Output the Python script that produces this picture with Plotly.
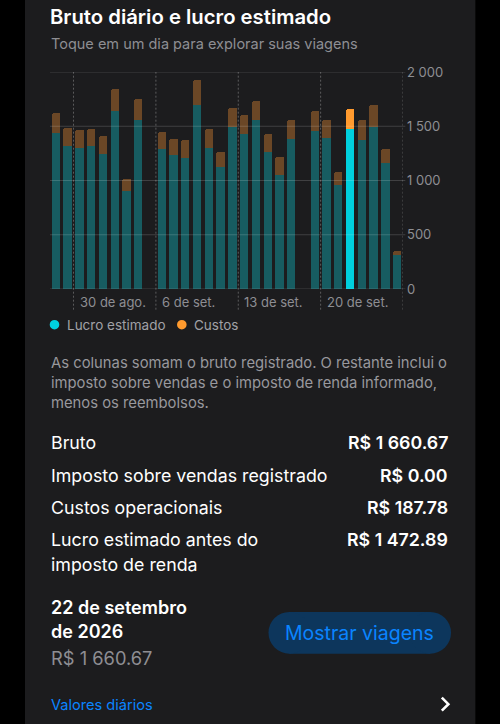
import pandas as pd
import plotly.graph_objects as go

# ---------------- data ----------------
days = [d.strftime("%Y-%m-%d") for d in pd.date_range("2026-08-28", "2026-09-26", freq="D")]
lucro = [1438, 1321, 1299, 1321, 1244, 1640, 900, 1554, None, 1290,
         1235, 1204, 1693, 1303, 1121, 1490, 1432, 1561, 1260, 1051,
         1382, None, 1459, 1392, 962, 1472.89, 1370, 1493, 1158, 316]
custos = [184, 160, 166, 157, 169, 206, 117, 197, None, 154,
          144, 166, 230, 168, 142, 178, 168, 172, 165, 166,
          176, None, 185, 169, 113, 187.78, 188, 203, 132, 34]
selected_day = "2026-09-22"
week_ticks = ["2026-08-30", "2026-09-06", "2026-09-13", "2026-09-20", "2026-09-27"]
week_labels = ["30 de ago.", "6 de set.", "13 de set.", "20 de set.", ""]
y_ticks = [0, 500, 1000, 1500, 2000]
y_labels = ["0", "500", "1 000", "1 500", "2 000"]

summary_labels = ["Bruto", "Imposto sobre vendas registrado", "Custos operacionais",
                  "Lucro estimado antes do<br>imposto de renda"]
summary_values = ["R$ 1 660.67", "R$ 0.00", "R$ 187.78", "R$ 1 472.89"]

# ---------------- style ----------------
FONT = "Inter"
CARD = "#1c1c1e"
GRAY = "#8e8e93"
CYAN = "#00d0de"
ORANGE = "#ff9a2e"
TEAL_DIM = "#175c61"
BROWN_DIM = "#6b4726"
BLUE = "#0a84ff"

W, H = 500, 724
PL, PR, PT, PB = 50, 402.7, 72.3, 289.3


def px(x):
    return (x - PL) / (PR - PL)


def py(y):
    return (PB - y) / (PB - PT)


x_mid = [d + " 12:00" for d in days]
lucro_colors = [CYAN if d == selected_day else TEAL_DIM for d in days]
custo_colors = [ORANGE if d == selected_day else BROWN_DIM for d in days]
bar_w = 0.71 * 86400000

fig = go.Figure()
fig.add_trace(go.Bar(x=x_mid, y=lucro, name="Lucro estimado", width=bar_w,
                     marker=dict(color=lucro_colors, line_width=0)))
fig.add_trace(go.Bar(x=x_mid, y=custos, name="Custos", width=bar_w,
                     marker=dict(color=custo_colors, line_width=0)))

shapes = []
# card background
shapes.append(dict(type="rect", xref="paper", yref="paper", x0=px(25), x1=px(475),
                   y0=py(H + 5), y1=py(-5), fillcolor=CARD, line_width=0, layer="below"))
# horizontal gridlines (drawn over bars, translucent)
for v in y_ticks:
    shapes.append(dict(type="line", xref="paper", yref="y", x0=0, x1=px(405), y0=v, y1=v,
                       line=dict(color="rgba(255,255,255,0.16)", width=1), layer="above"))
# weekly dashed lines
for t in week_ticks:
    shapes.append(dict(type="line", xref="x", yref="paper", x0=t, x1=t, y0=py(310), y1=1,
                       line=dict(color="rgba(255,255,255,0.28)", width=1, dash="2px,2px"),
                       layer="above"))
# legend dots
for cx, col in [(54.5, CYAN), (181.7, ORANGE)]:
    shapes.append(dict(type="circle", xref="paper", yref="paper", x0=px(cx - 4.8), x1=px(cx + 4.8),
                       y0=py(325 + 4.8), y1=py(325 - 4.8), fillcolor=col, line_width=0))
# pill button
bx0, bx1, by0, by1 = 268.3, 450.7, 612.3, 654
r = (by1 - by0) / 2
shapes.append(dict(type="rect", xref="paper", yref="paper", x0=px(bx0 + r), x1=px(bx1 - r),
                   y0=py(by1), y1=py(by0), fillcolor="#0d365c", line_width=0))
for cx in (bx0 + r, bx1 - r):
    shapes.append(dict(type="circle", xref="paper", yref="paper", x0=px(cx - r), x1=px(cx + r),
                       y0=py(by1), y1=py(by0), fillcolor="#0d365c", line_width=0))
# chevron
shapes.append(dict(type="path", xref="paper", yref="paper",
                   path=f"M {px(441.5)} {py(698)} L {px(448)} {py(704.5)} L {px(441.5)} {py(711)}",
                   line=dict(color="white", width=2.6)))

ann = []


def text(x, y, s, size, color, weight=400, anchor="left"):
    ann.append(dict(x=px(x), y=py(y), xref="paper", yref="paper", text=s, showarrow=False,
                    xanchor=anchor, yanchor="middle", align=anchor,
                    font=dict(family=FONT, size=size, color=color, weight=weight)))


text(48.5, 17, "Bruto diário e lucro estimado", 20.3, "white", 600)
text(49.5, 44, "Toque em um dia para explorar suas viagens", 14.5, GRAY)
# x tick labels
for t, lab in zip(week_ticks, week_labels):
    if lab:
        ann.append(dict(x=t, y=py(302), xref="x", yref="paper", text=lab, showarrow=False,
                        xanchor="left", yanchor="middle", xshift=4,
                        font=dict(family=FONT, size=13, color=GRAY)))
# legend
text(65, 325, "Lucro estimado", 13.5, "#a1a1a6")
text(192, 325, "Custos", 13.5, "#a1a1a6")
# paragraph
para = ["As colunas somam o bruto registrado. O restante inclui o",
        "imposto sobre vendas e o imposto de renda informado,",
        "menos os reembolsos."]
for i, line in enumerate(para):
    text(49.5, 363 + 20 * i, line, 14.8, "#98989d")
# summary rows
row_y = [443, 475.5, 507.5, 540]
for lab, val, yy in zip(summary_labels, summary_values, row_y):
    if "<br>" in lab:
        l1, l2 = lab.split("<br>")
        text(49.5, yy, l1, 17.8, "white")
        text(49.5, yy + 25, l2, 17.8, "white")
    else:
        text(49.5, yy, lab, 17.8, "white")
    text(450, yy, val, 17.8, "white", 600, anchor="right")
# selected day
text(49.5, 608, "22 de setembro", 18, "white", 600)
text(49.5, 632, "de 2026", 18, "white", 600)
text(49.5, 658.5, "R$ 1 660.67", 18.3, GRAY)
ann.append(dict(x=px((bx0 + bx1) / 2), y=py(633.5), xref="paper", yref="paper",
                text="Mostrar viagens", showarrow=False, xanchor="center", yanchor="middle",
                font=dict(family=FONT, size=19.5, color=BLUE)))
text(49.5, 705, "Valores diários", 14.6, BLUE)

fig.update_layout(
    width=W, height=H, autosize=False,
    margin=dict(l=PL, r=W - PR, t=PT, b=H - PB, pad=0),
    paper_bgcolor="black", plot_bgcolor="rgba(0,0,0,0)",
    barmode="stack", bargap=0, barcornerradius=2,
    showlegend=False,
    font=dict(family=FONT, color=GRAY),
    xaxis=dict(type="date", range=["2026-08-28", "2026-09-27"], showgrid=False, zeroline=False,
               showticklabels=False, showline=False, fixedrange=True),
    yaxis=dict(range=[0, 2000], side="right", tickvals=y_ticks, ticktext=y_labels,
               showgrid=False, zeroline=False, showline=False, ticks="",
               tickfont=dict(family=FONT, size=13, color=GRAY), ticklabelstandoff=3,
               fixedrange=True),
    shapes=shapes, annotations=ann,
)

fig.write_html("out.html", config={"displayModeBar": False},
               post_script="document.body.style.margin='0';document.body.style.background='#000';document.body.style.overflow='hidden';")
